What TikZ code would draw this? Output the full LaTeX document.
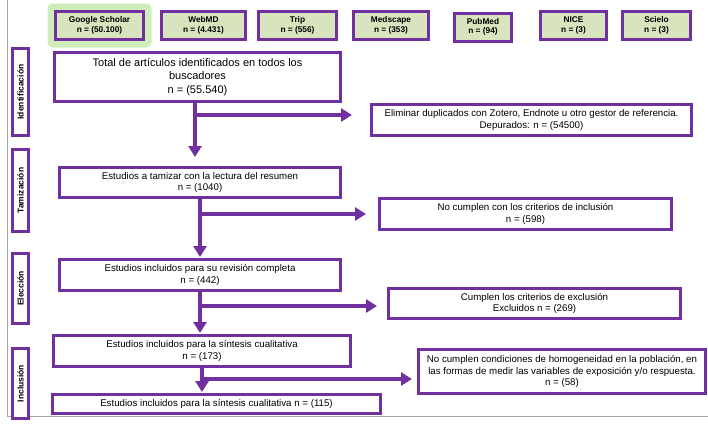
\documentclass[tikz,border=0pt]{standalone}
\usepackage{fontspec}
\setmainfont{Liberation Sans}
\usepackage{tikz}
\usetikzlibrary{arrows.meta,positioning}
\definecolor{morado}{HTML}{7030A0}
\definecolor{verde}{HTML}{D7E4BD}
\definecolor{brillo}{HTML}{CFEDB8}
\tikzset{style={>={Triangle[width=13pt,length=11pt]}}}
\tikzset{base/.style={rectangle,draw=morado,line width=3pt,inner sep=1pt,align=center}}
\tikzset{fuente/.style={base,fill=verde,font=\fontsize{8.3}{9.5}\selectfont\bfseries,minimum height=28pt}}
\tikzset{glow/.style={rectangle,fill=brillo,rounded corners=5pt,minimum width=104pt,minimum height=44pt}}
\tikzset{fase/.style={base,fill=white,rotate=90,font=\fontsize{8.5}{10}\selectfont\bfseries,minimum height=16pt}}
\tikzset{paso/.style={base,fill=white,font=\fontsize{9.7}{11.5}\selectfont}}
\tikzset{flujo/.style={->,draw=morado,line width=3.5pt}}

\begin{document}
\begin{tikzpicture}[x=1pt,y=-1pt]
    \useasboundingbox (0,0) rectangle (708,429);
    \draw[gray!70,line width=1pt] (7,0) -- (7,416) -- (708,416);

    % fuentes
    \node[glow]   (gsglow) at (99.5,25.5) {};
    \node[fuente,minimum width=88pt] (gs)     at (99.5,25.5)  {Google Scholar\\n = (50.100)};
    \node[fuente,minimum width=84pt] (webmd)  at (203.5,25.5) {WebMD\\n = (4.431)};
    \node[fuente,minimum width=78pt] (trip)   at (297.5,25.5) {Trip\\n = (556)};
    \node[fuente,minimum width=75pt] (med)    at (391,25.5)   {Medscape\\n = (353)};
    \node[fuente,minimum width=57pt] (pub)    at (483,27)     {PubMed\\n = (94)};
    \node[fuente,minimum width=66pt] (nice)   at (573.5,25.5) {NICE\\n = (3)};
    \node[fuente,minimum width=68pt] (scielo) at (656.5,25.5) {Scielo\\n = (3)};

    % fases
    \node[fase,minimum width=87pt] (fid)  at (20.5,92)    {Identificación};
    \node[fase,minimum width=82pt] (ftam) at (20.5,190.5) {Tamización};
    \node[fase,minimum width=70pt] (fel)  at (20.5,288.5) {Elección};
    \node[fase,minimum width=70pt] (fin)  at (20.5,383.5) {Inclusión};

    % pasos
    \node[paso,minimum width=286pt,minimum height=49pt,font=\fontsize{11}{13.5}\selectfont] (total) at (197.5,77)
        {Total de artículos identificados en todos los\\buscadores\\n = (55.540)};
    \node[paso,minimum width=320pt,minimum height=31pt] (elim)  at (531.5,120)
        {Eliminar duplicados con Zotero, Endnote u otro gestor de referencia.\\Depurados: n = (54500)};
    \node[paso,minimum width=281pt,minimum height=30pt] (tam)   at (200,182.5)
        {Estudios a tamizar con la lectura del resumen\\n = (1040)};
    \node[paso,minimum width=292pt,minimum height=31pt] (nocum) at (525.5,214)
        {No cumplen con los criterios de inclusión\\n = (598)};
    \node[paso,minimum width=281pt,minimum height=31pt] (rev)   at (200,275)
        {Estudios incluidos para su revisión completa\\n = (442)};
    \node[paso,minimum width=292pt,minimum height=30pt] (cumpl) at (534.5,303.5)
        {Cumplen los criterios de exclusión\\Excluidos n = (269)};
    \node[paso,minimum width=297pt,minimum height=31pt] (sint)  at (202,351)
        {Estudios incluidos para la síntesis cualitativa\\n = (173)};
    \node[paso,minimum width=287pt,minimum height=44pt] (homog) at (562,371.5)
        {No cumplen condiciones de homogeneidad en la población, en\\las formas de medir las variables de exposición y/o respuesta.\\n = (58)};
    \node[paso,minimum width=328pt,minimum height=19pt] (final) at (216.5,404)
        {Estudios incluidos para la síntesis cualitativa n = (115)};

    \coordinate (r1) at (195,115);
    \coordinate (r2) at (200,214);
    \coordinate (r3) at (200,306);
    \coordinate (r4) at (202,379);

    \draw[flujo,shorten >=9pt] (r1 |- total.south) -- (r1 |- tam.north);
    \draw[flujo,shorten >=18pt] (r1) -- (r1 -| elim.west);
    \draw[flujo,shorten >=1pt] (r2 |- tam.south) -- (r2 |- rev.north);
    \draw[flujo,shorten >=12pt] (r2) -- (r2 -| nocum.west);
    \draw[flujo,shorten >=1pt] (r3 |- rev.south) -- (r3 |- sint.north);
    \draw[flujo,shorten >=10pt] (r3) -- (r3 -| cumpl.west);
    \draw[flujo,shorten >=1pt] (r4 |- sint.south) -- (r4 |- final.north);
    \draw[flujo,shorten >=5pt] (r4) -- (r4 -| homog.west);
\end{tikzpicture}
\end{document}
